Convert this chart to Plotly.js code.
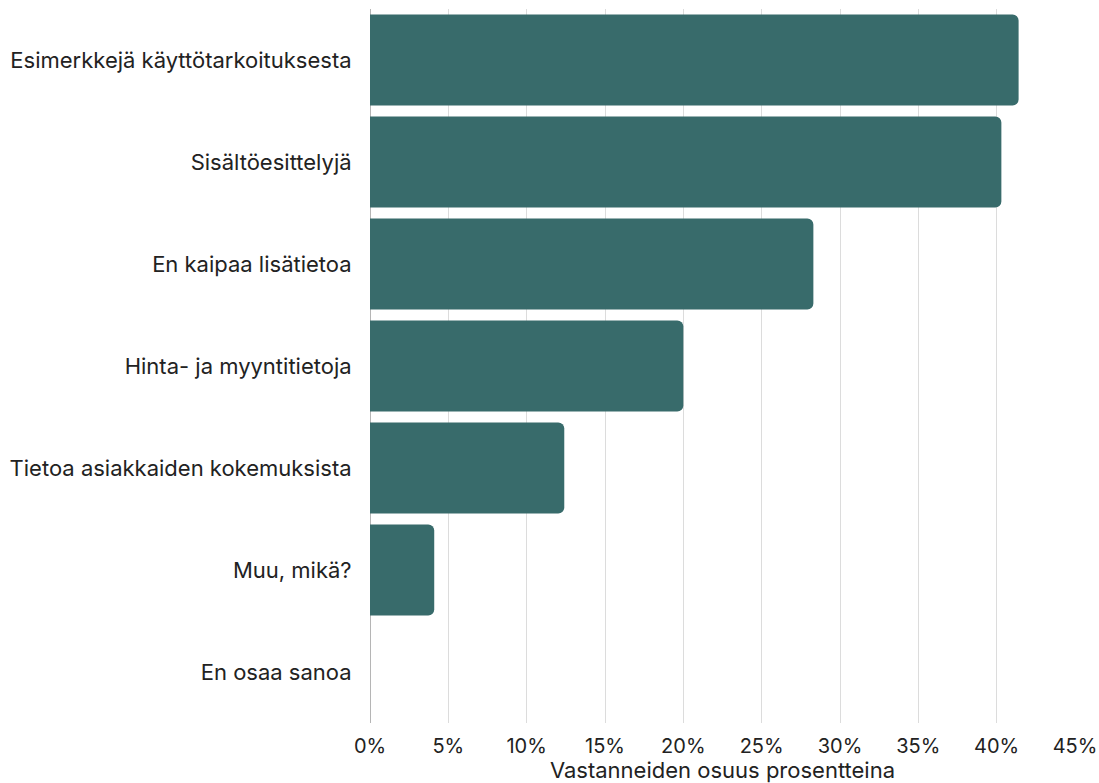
<!DOCTYPE html>
<html>
<head>
<meta charset="utf-8">
<script src="https://cdn.plot.ly/plotly-3.0.1.min.js"></script>
<style>html,body{margin:0;padding:0;background:#fff;}#chart{width:1099px;height:783px;}</style>
</head>
<body>
<div id="chart"></div>
<script>
const categories = [
  "Esimerkkejä käyttötarkoituksesta",
  "Sisältöesittelyjä",
  "En kaipaa lisätietoa",
  "Hinta- ja myyntitietoja",
  "Tietoa asiakkaiden kokemuksista",
  "Muu, mikä?",
  "En osaa sanoa"
];
const values = [41.4, 40.3, 28.3, 20.0, 12.4, 4.1, 0];
const tickVals = [0, 5, 10, 15, 20, 25, 30, 35, 40, 45];
const tickText = tickVals.map(v => v + "%");

const font = "Inter, 'Open Sans', sans-serif";
Plotly.newPlot("chart", [{
  type: "bar",
  orientation: "h",
  y: categories,
  x: values,
  marker: {color: "#386b6b", cornerradius: 6},
  hoverinfo: "skip"
}], {
  width: 1099, height: 783,
  margin: {l: 370, r: 24, t: 9, b: 60},
  paper_bgcolor: "#fff", plot_bgcolor: "#fff",
  bargap: 0.11,
  showlegend: false,
  font: {family: font, size: 21, color: "#222"},
  xaxis: {
    range: [0, 45],
    tickvals: tickVals, ticktext: tickText,
    showgrid: true, gridcolor: "#dcdcdc", gridwidth: 1,
    zeroline: true, zerolinecolor: "#b5b5b5", zerolinewidth: 1,
    showline: false, ticks: "outside", ticklen: 5, tickcolor: "rgba(0,0,0,0)",
    tickfont: {size: 20, color: "#222"},
    title: {text: "Vastanneiden osuus prosentteina", font: {size: 22, color: "#222"}, standoff: 6}
  },
  yaxis: {
    autorange: "reversed",
    showgrid: false, zeroline: false, showline: false,
    ticks: "outside", ticklen: 13, tickcolor: "rgba(0,0,0,0)",
    tickfont: {size: 22, color: "#222"}
  }
}, {displayModeBar: false, staticPlot: true});
</script>
</body>
</html>
